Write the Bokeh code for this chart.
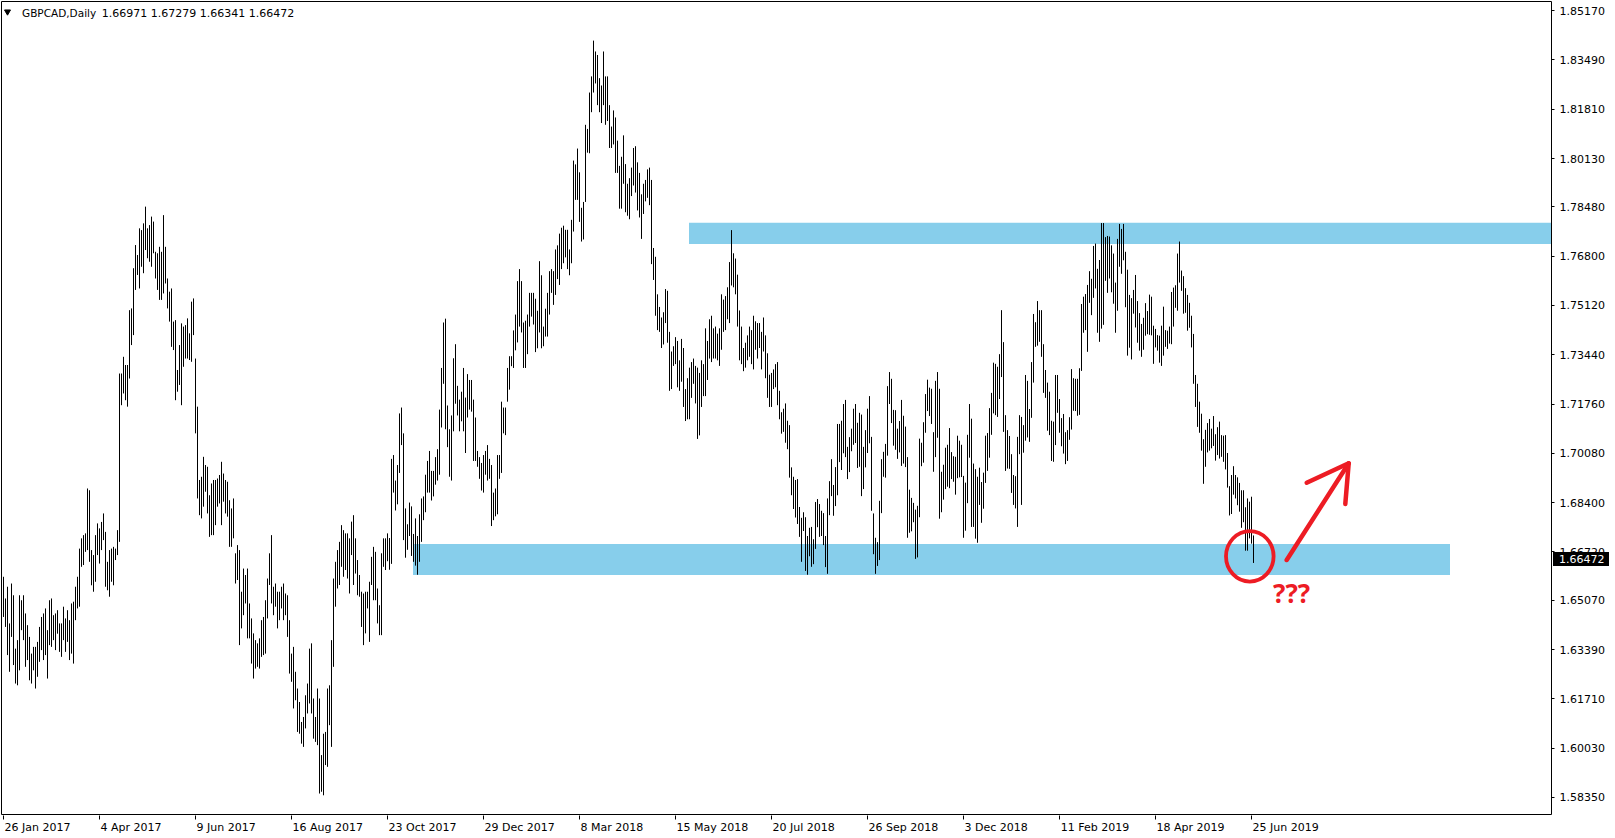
from bokeh.plotting import figure
from bokeh.models import Range1d, FixedTicker, NumeralTickFormatter
from bokeh.core.properties import value
from bokeh.embed import file_html
from bokeh.resources import INLINE

# ---------------- data ----------------
symbol = "GBPCAD,Daily"
last_ohlc = ["1.66971", "1.67279", "1.66341", "1.66472"]
last_close = 1.66472

high = [
    1.6587,1.6513,1.6553,1.6428,1.6564,1.6524,1.6342,1.6371,1.6524,1.6507,
    1.6524,1.6462,1.6422,1.6382,1.6325,1.6348,1.6348,1.6365,1.6416,1.6450,
    1.6462,1.6479,1.6405,1.6507,1.6513,1.6456,1.6462,1.6473,1.6428,1.6428,
    1.6485,1.6445,1.6473,1.6439,1.6496,1.6502,1.6553,1.6587,1.6683,1.6718,
    1.6729,1.6735,1.6888,1.6882,1.6678,1.6661,1.6729,1.6769,1.6752,1.6774,
    1.6803,1.6740,1.6638,1.6678,1.6683,1.6689,1.6683,1.6746,1.7280,1.7280,
    1.7337,1.7309,1.7309,1.7496,1.7502,1.7639,1.7718,1.7684,1.7775,1.7769,
    1.7792,1.7849,1.7775,1.7786,1.7815,1.7798,1.7695,1.7690,1.7712,1.7695,
    1.7820,1.7712,1.7604,1.7559,1.7570,1.7457,1.7462,1.7292,1.7377,1.7451,
    1.7440,1.7445,1.7468,1.7417,1.7525,1.7536,1.7331,1.7167,1.6917,1.6928,
    1.6996,1.6968,1.6962,1.6865,1.6905,1.6917,1.6917,1.6922,1.6934,1.6979,
    1.6939,1.6917,1.6911,1.6848,1.6820,1.6854,1.6667,1.6695,1.6678,1.6536,
    1.6615,1.6593,1.6615,1.6496,1.6445,1.6394,1.6371,1.6360,1.6377,1.6439,
    1.6450,1.6507,1.6581,1.6667,1.6729,1.6553,1.6564,1.6536,1.6536,1.6553,
    1.6564,1.6530,1.6524,1.6439,1.6325,1.6348,1.6263,1.6206,1.6160,1.6092,
    1.6109,1.6183,1.6223,1.6342,1.6360,1.6172,1.6109,1.6206,1.6172,1.5979,
    1.6052,1.6058,1.6206,1.6217,1.6371,1.6581,1.6638,1.6678,1.6706,1.6763,
    1.6746,1.6735,1.6735,1.6718,1.6775,1.6797,1.6718,1.6644,1.6593,1.6536,
    1.6530,1.6536,1.6536,1.6570,1.6655,1.6689,1.6672,1.6547,1.6490,1.6667,
    1.6718,1.6718,1.6735,1.6719,1.6989,1.7002,1.6915,1.6968,1.7144,1.7164,
    1.7076,1.6820,1.6766,1.6840,1.6827,1.6733,1.6786,1.6726,1.6800,1.6854,
    1.6861,1.6935,1.6982,1.7016,1.6948,1.6948,1.6995,1.7022,1.7157,1.7299,
    1.7454,1.7467,1.7171,1.7090,1.7137,1.7332,1.7380,1.7238,1.7191,1.7218,
    1.7299,1.7198,1.7278,1.7258,1.7258,1.7191,1.7130,1.7016,1.6995,1.6975,
    1.7002,1.7016,1.7036,1.6989,1.6968,1.6874,1.6888,1.7002,1.7002,1.7184,
    1.7164,1.7164,1.7299,1.7339,1.7339,1.7427,1.7481,1.7595,1.7636,1.7595,
    1.7454,1.7460,1.7481,1.7555,1.7555,1.7555,1.7535,1.7494,1.7663,1.7615,
    1.7440,1.7501,1.7555,1.7629,1.7636,1.7629,1.7703,1.7717,1.7757,1.7777,
    1.7784,1.7770,1.7770,1.7703,1.7804,1.8006,1.7993,1.8047,1.7966,1.7845,
    1.7865,1.8128,1.8114,1.8238,1.8293,1.8415,1.8378,1.8366,1.8287,1.8262,
    1.8378,1.8293,1.8293,1.8195,1.8122,1.8177,1.8153,1.8074,1.7988,1.8019,
    1.8092,1.7994,1.7927,1.7946,1.7982,1.8049,1.8055,1.8000,1.7964,1.7891,
    1.7927,1.7940,1.7976,1.7982,1.7940,1.7708,1.7678,1.7550,1.7507,1.7471,
    1.7489,1.7568,1.7562,1.7422,1.7355,1.7373,1.7404,1.7391,1.7325,1.7398,
    1.7367,1.7227,1.7264,1.7300,1.7319,1.7331,1.7306,1.7300,1.7282,1.7325,
    1.7312,1.7434,1.7391,1.7465,1.7477,1.7434,1.7440,1.7416,1.7434,1.7550,
    1.7532,1.7544,1.7574,1.7660,1.7769,1.7690,1.7672,1.7617,1.7495,1.7440,
    1.7367,1.7385,1.7410,1.7440,1.7428,1.7477,1.7458,1.7452,1.7452,1.7422,
    1.7471,1.7410,1.7349,1.7276,1.7282,1.7294,1.7312,1.7319,1.7221,1.7148,
    1.7160,1.7178,1.7119,1.7104,1.6960,1.6928,1.6917,1.6920,1.6825,1.6788,
    1.6807,1.6790,1.6726,1.6754,1.6757,1.6715,1.6842,1.6852,1.6835,1.6812,
    1.6804,1.6726,1.6854,1.6913,1.6988,1.6900,1.6961,1.7108,1.7108,1.7119,
    1.7176,1.7190,1.7030,1.7063,1.7092,1.7160,1.7176,1.7112,1.7146,1.7140,
    1.7030,1.7087,1.7160,1.7203,1.7064,1.6803,1.6720,1.6705,1.6846,1.6988,
    1.7013,1.7040,1.7237,1.7285,1.7262,1.7156,1.7155,1.7092,1.7118,1.7190,
    1.7136,1.7099,1.6995,1.6884,1.6856,1.6839,1.6816,1.6829,1.7058,1.7044,
    1.7114,1.7210,1.7259,1.7232,1.7228,1.7080,1.7255,1.7285,1.7228,1.6945,
    1.6969,1.7027,1.7037,1.7094,1.7012,1.6998,1.6996,1.7068,1.7051,1.7037,
    1.6931,1.6908,1.7071,1.7176,1.7126,1.6973,1.6954,1.6928,1.6959,1.6910,
    1.6942,1.7068,1.7077,1.7162,1.7214,1.7317,1.7313,1.7303,1.7346,1.7496,
    1.7387,1.7138,1.7087,1.7067,1.7005,1.6934,1.6930,1.7064,1.7138,1.7132,
    1.7104,1.7275,1.7255,1.7159,1.7319,1.7483,1.7455,1.7527,1.7496,1.7496,
    1.7380,1.7292,1.7249,1.7218,1.7119,1.7116,1.7275,1.7275,1.7193,1.7128,
    1.7142,1.7080,1.7087,1.7131,1.7295,1.7264,1.7262,1.7262,1.7298,1.7517,
    1.7542,1.7551,1.7582,1.7629,1.7603,1.7715,1.7723,1.7637,1.7667,1.7793,
    1.7793,1.7745,1.7749,1.7747,1.7717,1.7689,1.7590,1.7739,1.7790,1.7773,
    1.7790,1.7695,1.7634,1.7548,1.7537,1.7565,1.7616,1.7527,1.7486,1.7449,
    1.7470,1.7520,1.7493,1.7549,1.7542,1.7443,1.7432,1.7411,1.7409,1.7443,
    1.7508,1.7428,1.7426,1.7440,1.7558,1.7573,1.7581,1.7689,1.7730,1.7631,
    1.7612,1.7571,1.7548,1.7521,1.7477,1.7415,1.7275,1.7245,1.7184,1.7143,
    1.7056,1.7088,1.7111,1.7125,1.7092,1.7135,1.7073,1.7097,1.7116,1.7070,
    1.7068,1.7070,1.7009,1.6896,1.6934,1.6964,1.6934,1.6926,1.6907,1.6882,
    1.6882,1.6824,1.6854,1.6843,1.6860,1.67279,
]

low = [
    1.6450,1.6416,1.6320,1.6263,1.6382,1.6286,1.6223,1.6217,1.6268,1.6405,
    1.6371,1.6280,1.6303,1.6234,1.6223,1.6268,1.6206,1.6246,1.6297,1.6337,
    1.6303,1.6320,1.6240,1.6354,1.6348,1.6371,1.6337,1.6393,1.6331,1.6314,
    1.6371,1.6331,1.6365,1.6303,1.6325,1.6291,1.6439,1.6479,1.6485,1.6621,
    1.6627,1.6672,1.6678,1.6638,1.6558,1.6536,1.6570,1.6661,1.6632,1.6678,
    1.6712,1.6553,1.6541,1.6519,1.6570,1.6558,1.6644,1.6661,1.6706,1.7172,
    1.7212,1.7189,1.7167,1.7263,1.7377,1.7411,1.7565,1.7616,1.7570,1.7644,
    1.7622,1.7701,1.7673,1.7661,1.7644,1.7690,1.7604,1.7565,1.7531,1.7531,
    1.7553,1.7587,1.7502,1.7457,1.7371,1.7360,1.7189,1.7218,1.7241,1.7172,
    1.7303,1.7331,1.7331,1.7326,1.7320,1.7411,1.7076,1.6854,1.6797,1.6786,
    1.6826,1.6877,1.6803,1.6723,1.6729,1.6729,1.6763,1.6826,1.6837,1.6763,
    1.6843,1.6803,1.6792,1.6689,1.6689,1.6718,1.6564,1.6576,1.6354,1.6411,
    1.6456,1.6496,1.6377,1.6377,1.6291,1.6240,1.6274,1.6280,1.6274,1.6314,
    1.6320,1.6325,1.6445,1.6559,1.6496,1.6456,1.6485,1.6411,1.6439,1.6479,
    1.6439,1.6456,1.6382,1.6257,1.6229,1.6138,1.6166,1.6058,1.6052,1.6018,
    1.6007,1.6070,1.6121,1.6155,1.6121,1.6035,1.6024,1.6013,1.5848,1.5854,
    1.5842,1.5945,1.5939,1.6081,1.6007,1.6280,1.6485,1.6547,1.6559,1.6621,
    1.6587,1.6610,1.6581,1.6530,1.6661,1.6559,1.6598,1.6524,1.6519,1.6416,
    1.6354,1.6394,1.6479,1.6365,1.6559,1.6507,1.6507,1.6428,1.6388,1.6388,
    1.6621,1.6610,1.6640,1.6611,1.6631,1.6874,1.6813,1.6834,1.6941,1.7036,
    1.6712,1.6652,1.6679,1.6726,1.6658,1.6638,1.6625,1.6594,1.6638,1.6706,
    1.6780,1.6807,1.6874,1.6874,1.6847,1.6861,1.6901,1.6915,1.6935,1.7096,
    1.7245,1.7090,1.7029,1.6928,1.6915,1.7083,1.7177,1.7137,1.7083,1.7117,
    1.7083,1.7009,1.7130,1.7157,1.7150,1.6982,1.6982,1.6962,1.6921,1.6881,
    1.6874,1.6935,1.6915,1.6921,1.6760,1.6780,1.6793,1.6800,1.6921,1.6941,
    1.7076,1.7070,1.7184,1.7225,1.7305,1.7299,1.7359,1.7386,1.7440,1.7420,
    1.7299,1.7299,1.7346,1.7440,1.7474,1.7447,1.7353,1.7366,1.7420,1.7366,
    1.7373,1.7406,1.7406,1.7481,1.7555,1.7514,1.7548,1.7602,1.7582,1.7636,
    1.7656,1.7676,1.7636,1.7615,1.7656,1.7764,1.7872,1.7872,1.7797,1.7730,
    1.7737,1.7865,1.8033,1.8031,1.8171,1.8238,1.8269,1.8195,1.8171,1.8134,
    1.8195,1.8128,1.8141,1.8049,1.8049,1.8061,1.7964,1.7964,1.7842,1.7842,
    1.7927,1.7830,1.7818,1.7806,1.7885,1.7921,1.7897,1.7836,1.7812,1.7739,
    1.7824,1.7867,1.7879,1.7854,1.7653,1.7599,1.7477,1.7428,1.7422,1.7367,
    1.7379,1.7452,1.7385,1.7221,1.7227,1.7306,1.7312,1.7233,1.7221,1.7252,
    1.7166,1.7118,1.7124,1.7124,1.7197,1.7245,1.7178,1.7057,1.7069,1.7166,
    1.7203,1.7203,1.7258,1.7331,1.7319,1.7331,1.7331,1.7325,1.7306,1.7361,
    1.7422,1.7428,1.7465,1.7452,1.7580,1.7574,1.7550,1.7440,1.7325,1.7312,
    1.7288,1.7300,1.7325,1.7337,1.7312,1.7294,1.7361,1.7331,1.7367,1.7294,
    1.7355,1.7264,1.7197,1.7166,1.7166,1.7227,1.7233,1.7172,1.7124,1.7075,
    1.7081,1.7044,1.7022,1.6925,1.6865,1.6818,1.6789,1.6767,1.6723,1.6638,
    1.6743,1.6607,1.6594,1.6657,1.6621,1.6630,1.6682,1.6756,1.6723,1.6726,
    1.6695,1.6620,1.6597,1.6797,1.6862,1.6795,1.6828,1.6865,1.6978,1.6951,
    1.7008,1.6995,1.6920,1.6944,1.7015,1.7037,1.7043,1.6958,1.6962,1.6862,
    1.6886,1.6960,1.7009,1.7042,1.6812,1.6664,1.6597,1.6624,1.6644,1.6804,
    1.6928,1.6925,1.7000,1.7176,1.7111,1.7034,1.7020,1.6989,1.7011,1.6965,
    1.6973,1.6961,1.6720,1.6737,1.6742,1.6773,1.6648,1.6653,1.6790,1.6964,
    1.6976,1.7078,1.7152,1.7135,1.7108,1.6945,1.6995,1.7061,1.6785,1.6807,
    1.6850,1.6886,1.6894,1.6889,1.6920,1.6911,1.6867,1.6923,1.6926,1.6927,
    1.6720,1.6744,1.6838,1.6993,1.6757,1.6757,1.6717,1.6703,1.6832,1.6771,
    1.6819,1.6907,1.6948,1.6993,1.7071,1.7144,1.7138,1.7132,1.7193,1.7268,
    1.7081,1.6948,1.6956,1.6955,1.6873,1.6832,1.6820,1.6757,1.7005,1.6832,
    1.7010,1.7051,1.7062,1.7047,1.7129,1.7249,1.7371,1.7375,1.7388,1.7337,
    1.7214,1.7197,1.7085,1.7070,1.6982,1.6979,1.7036,1.7146,1.7078,1.7032,
    1.7007,1.6971,1.6982,1.7054,1.7089,1.7153,1.7152,1.7136,1.7139,1.7289,
    1.7419,1.7428,1.7354,1.7521,1.7479,1.7538,1.7570,1.7419,1.7388,1.7433,
    1.7446,1.7596,1.7555,1.7604,1.7557,1.7518,1.7419,1.7494,1.7644,1.7620,
    1.7666,1.7506,1.7341,1.7368,1.7328,1.7484,1.7437,1.7385,1.7358,1.7337,
    1.7361,1.7409,1.7414,1.7412,1.7410,1.7313,1.7369,1.7358,1.7317,1.7306,
    1.7341,1.7371,1.7364,1.7382,1.7380,1.7440,1.7504,1.7494,1.7590,1.7562,
    1.7484,1.7487,1.7426,1.7436,1.7369,1.7245,1.7166,1.7098,1.7078,1.7017,
    1.6904,1.6962,1.7011,1.7017,1.7025,1.7033,1.6983,1.7002,1.6990,1.6996,
    1.6979,1.6953,1.6891,1.6796,1.6801,1.6867,1.6854,1.6831,1.6809,1.6754,
    1.6773,1.6676,1.6676,1.6718,1.6700,1.66341,
]

date_labels = ["26 Jan 2017", "4 Apr 2017", "9 Jun 2017", "16 Aug 2017",
               "23 Oct 2017", "29 Dec 2017", "8 Mar 2018", "15 May 2018",
               "20 Jul 2018", "26 Sep 2018", "3 Dec 2018", "11 Feb 2019",
               "18 Apr 2019", "25 Jun 2019"]
date_bars = [0, 48, 96, 144, 192, 240, 288, 336, 384, 432, 480, 528, 576, 624]

price_ticks = [1.85170, 1.83490, 1.81810, 1.80130, 1.78480, 1.76800, 1.75120,
               1.73440, 1.71760, 1.70080, 1.68400, 1.66720, 1.65070, 1.63390,
               1.61710, 1.60030, 1.58350]

# horizontal zones (bar index from / to, price low / high); None = to chart edge
zone_from = [342.75, 204.75]
zone_to = [None, 723.25]
zone_low = [1.77216, 1.65930]
zone_high = [1.77942, 1.66987]

# hand drawn red marks (bar index, price)
ring_x, ring_y = 623.15, 1.66568
arrow_x = [641.6, 672.6]
arrow_y = [1.66442, 1.69739]
head_x = [651.6, 672.6, 670.9]
head_y = [1.69077, 1.69739, 1.68351]
note_x, note_y, note_text = 634.75, 1.6532, "???"

# ---------------- layout (pixels) ----------------
PX_PER_BAR = 2.0
PX_PER_PRICE = 2933.0
FRAME_W, FRAME_H = 1612, 815
HALF = 0.5                      # canvas is drawn with a half-pixel shift
x0 = -1.5                       # bar i drawn at pixel centre 3.5 + 2 i
y_top = 1.85518                 # 1.85170 drawn at pixel 10.7
y_bot = y_top - FRAME_H / PX_PER_PRICE

def px_to_x(px):
    return x0 + (px - HALF) / PX_PER_BAR

def px_to_y(py):
    return y_top - (py - HALF) / PX_PER_PRICE

chart_left, chart_right = px_to_x(1.5), px_to_x(1551.5)
chart_top, chart_bottom = px_to_y(1.5), px_to_y(814.5)

RED = "#ED1C24"
BLUE = "#87CEEB"
FONT = "DejaVu Sans"

p = figure(frame_width=FRAME_W, frame_height=FRAME_H,
           x_range=Range1d(x0, x0 + FRAME_W / PX_PER_BAR),
           y_range=Range1d(y_bot, y_top),
           y_axis_location="right",
           output_backend="svg", toolbar_location=None,
           min_border=0, min_border_left=0, min_border_top=0,
           min_border_right=0, min_border_bottom=0,
           background_fill_color="white", border_fill_color="white",
           outline_line_color=None)
p.xgrid.visible = False
p.ygrid.visible = False

# zones
p.quad(left=zone_from, right=[chart_right if r is None else r for r in zone_to],
       bottom=zone_low, top=zone_high, fill_color=BLUE, line_color=None)

# chart border
p.quad(left=[chart_left], right=[chart_right], bottom=[chart_bottom], top=[chart_top],
       fill_color=None, line_color="black", line_width=1)

# bars (high-low)
idx = list(range(len(high)))
p.segment(x0=idx, y0=low, x1=idx, y1=high, line_color="black", line_width=1)

# header
p.scatter(x=[px_to_x(7.5)], y=[px_to_y(11.7)], marker="inverted_triangle", size=6,
          fill_color="black", line_color="black")
p.text(x=[px_to_x(22)], y=[px_to_y(13.3)], text=[symbol],
       text_font=value(FONT), text_font_size=value("10.5px"),
       text_baseline="middle", text_align="left", text_color="black")
p.text(x=[px_to_x(101.7)], y=[px_to_y(13.3)], text=[" ".join(last_ohlc)],
       text_font=value(FONT), text_font_size=value("11px"),
       text_baseline="middle", text_align="left", text_color="black")

# red annotations
p.ellipse(x=[ring_x], y=[ring_y], width=[23.8], height=[0.0172],
          fill_color=None, line_color=RED, line_width=3.8)
p.line(x=arrow_x, y=arrow_y, line_color=RED, line_width=4.5, line_cap="round")
p.line(x=head_x, y=head_y, line_color=RED, line_width=4.5,
       line_cap="round", line_join="round")
p.text(x=[note_x], y=[note_y], text=[note_text],
       text_font=value("Open Sans"), text_font_style="bold",
       text_font_size=value("26px"), text_color=RED,
       text_baseline="alphabetic", text_align="left")

# price scale: right axis pinned to the chart's right border
yax = p.yaxis[0]
yax.fixed_location = chart_right
yax.ticker = FixedTicker(ticks=price_ticks)
yax.formatter = NumeralTickFormatter(format="0.00000")
yax.axis_line_color = None
yax.major_tick_out = 3
yax.major_tick_in = 0
yax.minor_tick_out = 0
yax.minor_tick_in = 0
yax.major_tick_line_color = "black"
yax.major_label_standoff = 5
yax.major_label_text_font = FONT
yax.major_label_text_font_size = "11px"
yax.major_label_text_color = "black"

# time scale: labels start at the tick mark (MT4 style)
CW = {' ': 0.318, 'J': 0.295, 'a': 0.613, 'n': 0.634, 'A': 0.684, 'p': 0.635,
      'r': 0.411, 'u': 0.634, 'g': 0.635, 'O': 0.787, 'c': 0.550, 't': 0.392,
      'D': 0.770, 'e': 0.615, 'M': 0.863, 'y': 0.592, 'l': 0.278, 'S': 0.635,
      'F': 0.575, 'b': 0.635}
def text_width(s, size=11.0):
    return sum(0.636 if ch.isdigit() else CW.get(ch, 0.6) for ch in s) * size

label_pos = [round(b + (text_width(t) / 2 + 1) / PX_PER_BAR, 3)
             for b, t in zip(date_bars, date_labels)]
xax = p.xaxis[0]
xax.ticker = FixedTicker(ticks=label_pos, minor_ticks=date_bars)
xax.major_label_overrides = {pos: t for pos, t in zip(label_pos, date_labels)}
xax.axis_line_color = None
xax.major_tick_out = 0
xax.major_tick_in = 0
xax.minor_tick_out = 4
xax.minor_tick_in = 0
xax.minor_tick_line_color = "black"
xax.major_label_standoff = 1
xax.major_label_text_font = FONT
xax.major_label_text_font_size = "11px"
xax.major_label_text_color = "black"

# current price box on the price scale (drawn above the axis labels)
box = p.quad(left=[px_to_x(1553)], right=[px_to_x(1609)],
             top=[px_to_y(552)], bottom=[px_to_y(566)],
             fill_color="black", line_color=None)
box.level = "overlay"
box_text = p.text(x=[px_to_x(1559)], y=[last_close], text=[last_ohlc[3]],
                  text_font=value(FONT), text_font_size=value("11px"),
                  text_baseline="middle", text_align="left", text_color="white")
box_text.level = "overlay"

open("out.html", "w").write(file_html(p, INLINE))
